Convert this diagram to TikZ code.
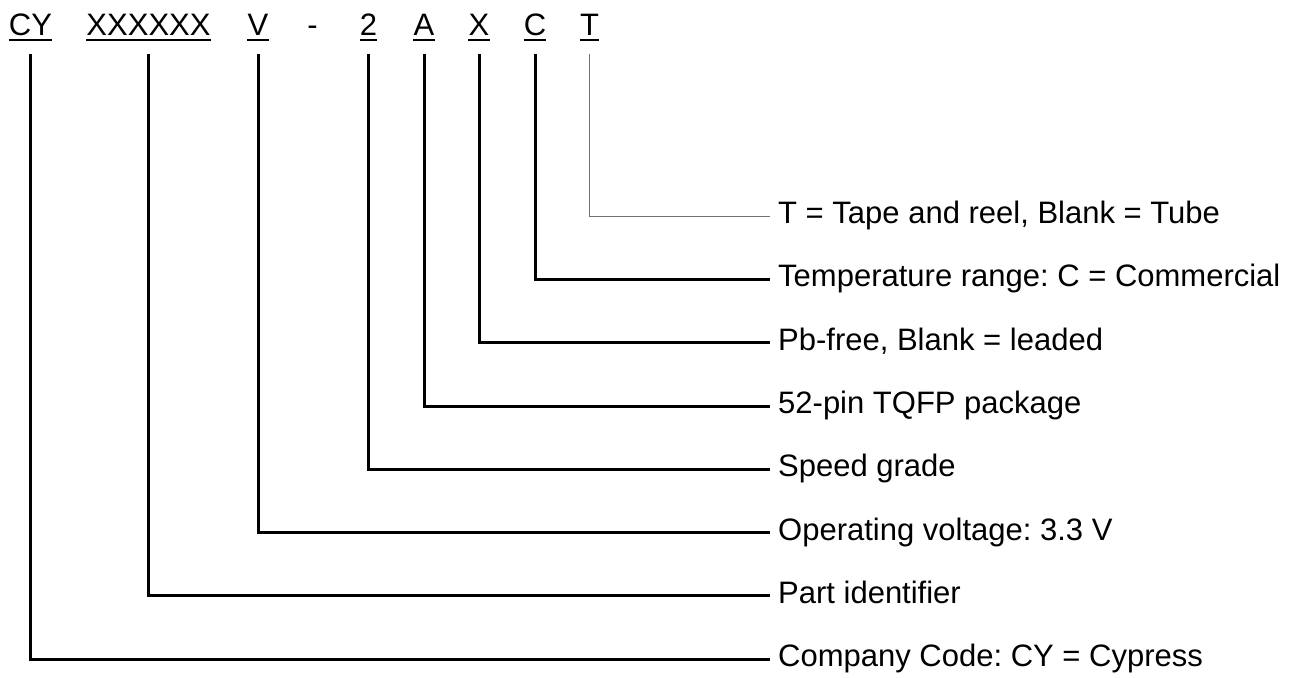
\documentclass[tikz,border=0pt]{standalone}
\usepackage{fontspec}
\setmainfont{Liberation Sans}
\frenchspacing
\begin{document}
\begin{tikzpicture}[x=1pt,y=-1pt,
  code/.style={font=\fontsize{31}{37}\selectfont, inner sep=0pt, anchor=base},
  desc/.style={font=\fontsize{31}{37}\selectfont, inner xsep=8pt, inner ysep=0pt, anchor=west, text height=22pt, text depth=7pt},
  lead/.style={line width=3pt, line join=miter},
  leadthin/.style={line width=1pt, draw=black!55},
  uline/.style={line width=2pt}]
\useasboundingbox (0,0) rectangle (1303,677);
% code letters
\node[code] (cy) at (30.5,36) {CY};
\node[code] (xx) at (148.5,36) {XXXXXX};
\node[code] (v) at (258,36) {V};
\node[code] (dash) at (312.5,36) {-};
\node[code] (two) at (368.5,36) {2};
\node[code] (a) at (424,36) {A};
\node[code] (x) at (479,36) {X};
\node[code] (c) at (535,36) {C};
\node[code] (t) at (589.5,36) {T};
% underlines
\foreach \n in {cy,xx,v,two,a,x,c,t}{
  \draw[uline] ([yshift=-4pt]\n.base west) -- ([yshift=-4pt]\n.base east);
}
% descriptions
\node[desc] (lt) at (770,216) {T = Tape and reel, Blank = Tube};
\node[desc] (lc) at (770,279.3) {Temperature range: C = Commercial};
\node[desc] (lx) at (770,342.6) {Pb-free, Blank = leaded};
\node[desc] (la) at (770,406) {52-pin TQFP package};
\node[desc] (ltwo) at (770,469.2) {Speed grade};
\node[desc] (lv) at (770,532.5) {Operating voltage: 3.3 V};
\node[desc] (lxx) at (770,595.8) {Part identifier};
\node[desc] (lcy) at (770,659) {Company Code: CY = Cypress};
% leaders
\draw[leadthin] ([yshift=-18pt]t.base) |- (lt.west);
\draw[lead] ([yshift=-18pt]c.base) |- (lc.west);
\draw[lead] ([yshift=-18pt]x.base) |- (lx.west);
\draw[lead] ([yshift=-18pt]a.base) |- (la.west);
\draw[lead] ([yshift=-18pt]two.base) |- (ltwo.west);
\draw[lead] ([yshift=-18pt]v.base) |- (lv.west);
\draw[lead] ([yshift=-18pt]xx.base) |- (lxx.west);
\draw[lead] ([yshift=-18pt]cy.base) |- (lcy.west);
\end{tikzpicture}
\end{document}
